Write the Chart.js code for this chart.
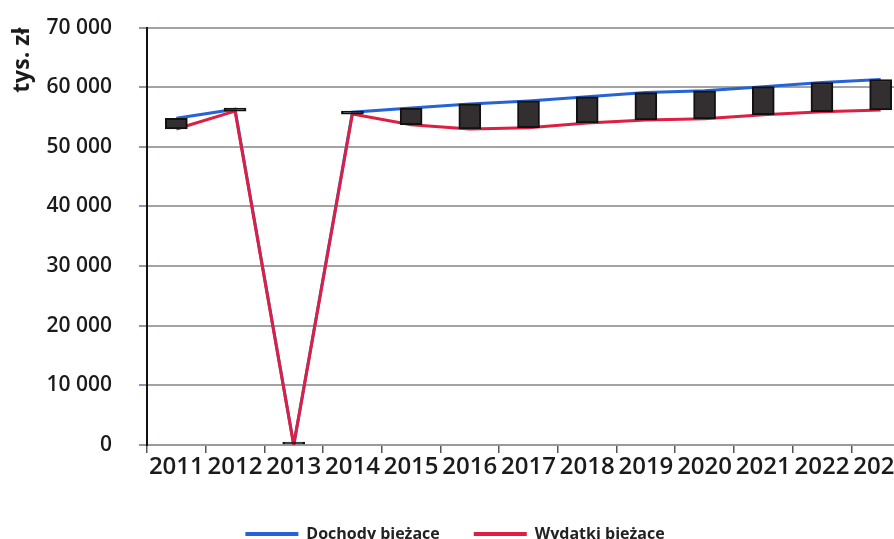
<!DOCTYPE html>
<html>
<head>
<meta charset="utf-8">
<script src="https://cdn.jsdelivr.net/npm/chart.js@4"></script>
<style>
  html, body { margin: 0; padding: 0; overflow: hidden; background: #fff; }
  #wrap { position: absolute; left: 0; top: -12px; }
</style>
</head>
<body>
<div id="wrap"><canvas id="c" width="910" height="564"></canvas></div>
<script>
// Lata prognozy
const YEARS = ["2011", "2012", "2013", "2014", "2015", "2016", "2017", "2018", "2019", "2020", "2021", "2022", "2023"];
// tys. zł
const DOCHODY = [54800, 56300, 0, 55800, 56500, 57200, 57700, 58400, 59100, 59400, 60100, 60800, 61300];
const WYDATKI = [53000, 56000, 0, 55500, 53700, 53000, 53200, 54000, 54500, 54700, 55400, 55900, 56200];
const Y_TICKS = [0, 10000, 20000, 30000, 40000, 50000, 60000, 70000];

const BLUE = "#2563d6", RED = "#dc1f42", BOX = "#332e2f";
const TXT = "#1b1b1b";
const fmt = v => String(v).replace(/\B(?=(\d{3})+(?!\d))/g, " ");

new Chart(document.getElementById("c"), {
  type: "bar",
  data: {
    labels: YEARS,
    datasets: [
      { type: "line", label: "Dochody bieżące", data: DOCHODY, borderColor: BLUE, backgroundColor: BLUE,
        borderWidth: 3, pointRadius: 0, tension: 0, order: 3 },
      { type: "line", label: "Wydatki bieżące", data: WYDATKI, borderColor: RED, backgroundColor: RED,
        borderWidth: 3, pointRadius: 0, tension: 0, order: 2 },
      // słupki wzrostu/spadku między seriami
      { label: "bars", data: YEARS.map((_, i) => [WYDATKI[i], DOCHODY[i]]), backgroundColor: BOX,
        borderColor: "#111", borderWidth: 2, borderSkipped: false, barThickness: 22, minBarLength: 3, order: 1 }
    ]
  },
  options: {
    responsive: false,
    animation: false,
    layout: { padding: { top: 7, right: 0, left: 0, bottom: 0 } },
    plugins: {
      tooltip: { enabled: false },
      legend: {
        position: "bottom",
        labels: {
          boxWidth: 53, boxHeight: 4, padding: 34, color: "#222",
          font: { family: "Open Sans", size: 16, weight: "bold" },
          generateLabels(chart) {
            return Chart.defaults.plugins.legend.labels.generateLabels(chart)
              .filter(l => l.datasetIndex < 2)
              .sort((a, b) => a.datasetIndex - b.datasetIndex)
              .map(l => Object.assign(l, { lineWidth: 0, fillStyle: l.strokeStyle }));
          }
        }
      }
    },
    scales: {
      x: {
        offset: true,
        grid: { offset: true, drawOnChartArea: false, tickLength: 8, color: "#555", lineWidth: 1.5 },
        border: { color: "#9a9a9a", width: 2 },
        ticks: { color: TXT, padding: 0, maxRotation: 0, autoSkip: false,
          font: { family: "Open Sans", size: 24, weight: 600 } },
        afterFit: s => { s.height = 47; }
      },
      y: {
        min: 0, max: 70000,
        afterBuildTicks: s => { s.ticks = Y_TICKS.map(v => ({ value: v })); },
        grid: { color: "#a3a3a3", lineWidth: 2, tickLength: 8, tickColor: "#8a96b8" },
        border: { color: "#111", width: 2 },
        ticks: { color: TXT, padding: 27, callback: v => fmt(v),
          font: { family: "Open Sans", size: 21, weight: 600 } },
        title: { display: true, text: "tys. zł", align: "end", color: TXT, padding: { top: 9, bottom: 0 },
          font: { family: "Open Sans", size: 23, weight: "bold" } },
        afterFit: s => { s.width = 147; }
      }
    }
  }
});
</script>
</body>
</html>
